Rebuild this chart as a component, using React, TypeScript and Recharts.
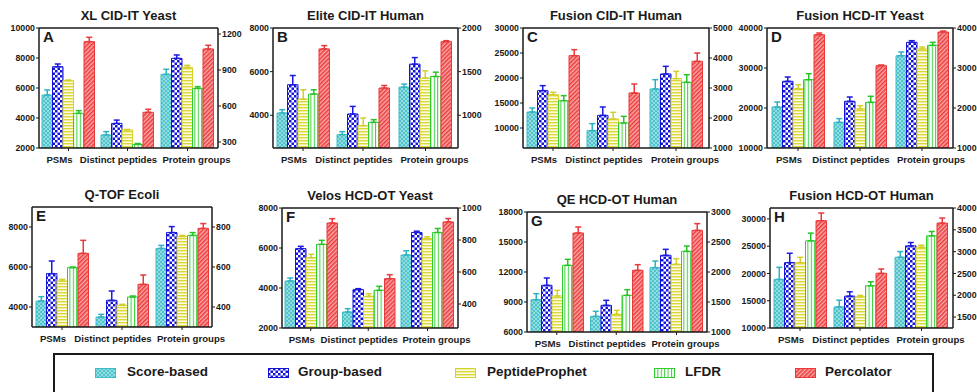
import React from "react";
import { BarChart, Bar, XAxis, YAxis, ErrorBar, ReferenceLine } from "recharts";

const categories = ["PSMs", "Distinct peptides", "Protein groups"];
const methods = ["Score-based", "Group-based", "PeptideProphet", "LFDR", "Percolator"];
const methodKeys = ["score", "group", "pp", "lfdr", "perc"];

// rows follow `methods`, columns follow `categories`
const meanA = [[5530, 2870, 864], [7420, 3640, 997], [6490, 3200, 922], [4310, 2240, 747], [9090, 4380, 1075]];
const errA = [[340, 220, 42], [180, 220, 28], [40, 40, 17], [180, 60, 14], [290, 200, 31]];

const meanB = [[4105, 3114, 1323], [5397, 4059, 1586], [4744, 3525, 1426], [4973, 3676, 1444], [7041, 5247, 1844]];
const errB = [[150, 136, 34], [425, 347, 75], [425, 352, 83], [196, 123, 50], [151, 118, 11]];

const meanC = [[13200, 9470, 2967], [17470, 12530, 3467], [16670, 11800, 3311], [15470, 11000, 3189], [24470, 17000, 3889]];
const errC = [[800, 1400, 311], [1000, 1670, 255], [470, 1330, 245], [1000, 1330, 255], [1200, 1800, 278]];

const meanD = [[20250, 16420, 3308], [26670, 21670, 3642], [24830, 19750, 3475], [27080, 21420, 3567], [38330, 30580, 3900]];
const errD = [[1250, 920, 92], [1080, 1080, 41], [1000, 830, 50], [1500, 1500, 75], [420, 170, 25]];

const meanE = [[4300, 3500, 693], [5667, 4333, 772], [5300, 4083, 752], [5967, 4500, 758], [6683, 5133, 793]];
const errE = [[217, 133, 15], [633, 467, 30], [83, 50, 6], [33, 50, 14], [650, 467, 24]];

const meanF = [[4350, 2800, 706], [5967, 3917, 847], [5517, 3583, 809], [6183, 3883, 847], [7250, 4467, 913]];
const errF = [[150, 167, 27], [116, 50, 8], [166, 134, 11], [200, 200, 25], [217, 200, 21]];

const meanG = [[9233, 7567, 2072], [10667, 8667, 2278], [9600, 7767, 2128], [12667, 9667, 2344], [15900, 12167, 2694]];
const errG = [[600, 500, 111], [733, 500, 100], [567, 400, 94], [600, 566, 89], [600, 566, 112]];

const meanH = [[18910, 13870, 2871], [21980, 15840, 3132], [21980, 15720, 3101], [25980, 17740, 3362], [29670, 20020, 3654]];
const errH = [[2210, 1230, 130], [1720, 800, 77], [980, 250, 46], [1410, 740, 100], [1410, 800, 116]];

const panels = [
  { letter: "A", title: "XL CID-IT Yeast", mean: meanA, err: errA, lDom: [2000, 10000], lTicks: [2000, 4000, 6000, 8000, 10000], rDom: [250, 1250], rTicks: [300, 600, 900, 1200] },
  { letter: "B", title: "Elite CID-IT Human", mean: meanB, err: errB, lDom: [2500, 8000], lTicks: [4000, 6000, 8000], rDom: [625, 2000], rTicks: [1000, 1500, 2000] },
  { letter: "C", title: "Fusion CID-IT Human", mean: meanC, err: errC, lDom: [6000, 30000], lTicks: [10000, 15000, 20000, 25000, 30000], rDom: [1000, 5000], rTicks: [1000, 2000, 3000, 4000, 5000] },
  { letter: "D", title: "Fusion HCD-IT Yeast", mean: meanD, err: errD, lDom: [10000, 40000], lTicks: [10000, 20000, 30000, 40000], rDom: [1000, 4000], rTicks: [1000, 2000, 3000, 4000] },
  { letter: "E", title: "Q-TOF Ecoli", mean: meanE, err: errE, lDom: [3000, 9000], lTicks: [4000, 6000, 8000], rDom: [300, 900], rTicks: [400, 600, 800] },
  { letter: "F", title: "Velos HCD-OT Yeast", mean: meanF, err: errF, lDom: [2000, 8000], lTicks: [2000, 4000, 6000, 8000], rDom: [250, 1000], rTicks: [400, 600, 800, 1000] },
  { letter: "G", title: "QE HCD-OT Human", mean: meanG, err: errG, lDom: [6000, 18000], lTicks: [6000, 9000, 12000, 15000, 18000], rDom: [1000, 3000], rTicks: [1000, 1500, 2000, 2500, 3000] },
  { letter: "H", title: "Fusion HCD-OT Human", mean: meanH, err: errH, lDom: [10000, 32000], lTicks: [10000, 15000, 20000, 25000, 30000], rDom: [1250, 4000], rTicks: [1500, 2000, 2500, 3000, 3500, 4000] },
];

// plot frame of each panel: left edge, dashed divider, right edge, top
const frames = [
  { x0: 39, xd: 157, x1: 218, top: 28 },
  { x0: 273, xd: 393, x1: 458, top: 28 },
  { x0: 523, xd: 643, x1: 709, top: 28 },
  { x0: 767, xd: 891, x1: 953, top: 28 },
  { x0: 32, xd: 152, x1: 212, top: 207 },
  { x0: 282, xd: 397, x1: 458, top: 208 },
  { x0: 527, xd: 646, x1: 707, top: 212 },
  { x0: 770, xd: 890, x1: 953, top: 208 },
];

const INK = "#1a1a1a";
const AXW = 34;
const TOPM = 8;
const XH = 24;
const PLOT_H = 120;

const styles: Record<string, { fill: string; stroke: string; err: string }> = {
  score: { fill: "url(#pScore)", stroke: "#3fbcc6", err: "#2fb2c2" },
  group: { fill: "url(#pGroup)", stroke: "#1414d8", err: "#1a1ae0" },
  pp: { fill: "url(#pPP)", stroke: "#d6d22c", err: "#d4cf2a" },
  lfdr: { fill: "url(#pLFDR)", stroke: "#30cc30", err: "#27c427" },
  perc: { fill: "url(#pPerc)", stroke: "#ec3838", err: "#e83a3a" },
};

function PatternDefs() {
  return (
    <svg width={0} height={0} style={{ position: "absolute" }}>
      <defs>
        <pattern id="pScore" width={4} height={4} patternUnits="userSpaceOnUse">
          <rect width={4} height={4} fill="#52c3ca" />
          <rect width={2} height={2} fill="#92dde1" />
          <rect x={2} y={2} width={2} height={2} fill="#92dde1" />
        </pattern>
        <pattern id="pGroup" width={5} height={5} patternUnits="userSpaceOnUse">
          <rect width={5} height={5} fill="#ffffff" />
          <rect width={2.5} height={2.5} fill="#1414d8" />
          <rect x={2.5} y={2.5} width={2.5} height={2.5} fill="#1414d8" />
        </pattern>
        <pattern id="pPP" width={4} height={3} patternUnits="userSpaceOnUse">
          <rect width={4} height={3} fill="#fdfbe4" />
          <rect width={4} height={1.4} fill="#dcd83a" />
        </pattern>
        <pattern id="pLFDR" width={3.4} height={4} patternUnits="userSpaceOnUse">
          <rect width={3.4} height={4} fill="#ffffff" />
          <rect width={1} height={4} fill="#38d038" />
        </pattern>
        <pattern id="pPerc" width={3} height={3} patternUnits="userSpaceOnUse" patternTransform="rotate(45)">
          <rect width={3} height={3} fill="#f8a8a8" />
          <rect width={1.5} height={3} fill="#ee3a3a" />
        </pattern>
      </defs>
    </svg>
  );
}

function buildRows(mean: number[][], err: number[][], cols: number[]) {
  return cols.map((c) => {
    const row: any = { cat: categories[c] };
    methodKeys.forEach((k, m) => {
      row[k] = mean[m][c];
      row[k + "Err"] = [0, err[m][c]];
    });
    return row;
  });
}

const CatTick = (props: any) => {
  const { x, y, payload, shift } = props;
  return (
    <text x={x + shift} y={y} dy={7} textAnchor="middle" fontSize={9.6} fontWeight={700} fill={INK}>
      {payload.value}
    </text>
  );
};

function Half({ rows, side, domain, ticks, width, shift }: any) {
  const isLeft = side === "left";
  return (
    <BarChart
      width={width}
      height={TOPM + PLOT_H + XH}
      data={rows}
      barSize={10.5}
      barGap={0}
      margin={{ top: TOPM, right: isLeft ? 1 : 0, bottom: 0, left: 0 }}
    >
      <XAxis
        dataKey="cat"
        height={XH}
        interval={0}
        tickSize={3}
        tickMargin={5}
        axisLine={{ stroke: INK, strokeWidth: 1.5 }}
        tickLine={{ stroke: INK }}
        tick={(p: any) => <CatTick {...p} shift={shift} />}
      />
      <YAxis
        yAxisId={side}
        orientation={side}
        domain={domain}
        ticks={ticks}
        allowDataOverflow
        interval={0}
        width={AXW}
        tickSize={3}
        tickMargin={1}
        axisLine={{ stroke: INK, strokeWidth: 1.5 }}
        tickLine={{ stroke: INK }}
        tick={{ fontSize: 8.8, fontWeight: 700, fill: INK }}
      />
      {isLeft && (
        <YAxis
          yAxisId="divider"
          orientation="right"
          width={0}
          domain={[0, 1]}
          tick={false}
          tickLine={false}
          axisLine={{ stroke: INK, strokeWidth: 1.5, strokeDasharray: "4 3" }}
        />
      )}
      <ReferenceLine yAxisId={side} y={domain[1]} stroke={INK} strokeWidth={1.5} />
      {methodKeys.map((k) => (
        <Bar
          key={k}
          yAxisId={side}
          dataKey={k}
          fill={styles[k].fill}
          stroke={styles[k].stroke}
          strokeWidth={1}
          isAnimationActive={false}
        >
          <ErrorBar dataKey={k + "Err"} width={3} stroke={styles[k].err} strokeWidth={1.5} direction="y" />
        </Bar>
      ))}
    </BarChart>
  );
}

function Panel({ p, f }: any) {
  return (
    <>
      <div
        style={{
          position: "absolute",
          left: f.x0,
          width: f.x1 - f.x0,
          top: f.top - 20,
          textAlign: "center",
          fontSize: 13,
          fontWeight: 700,
          lineHeight: "16px",
          whiteSpace: "nowrap",
        }}
      >
        {p.title}
      </div>
      <div style={{ position: "absolute", left: f.x0 - AXW, top: f.top - TOPM }}>
        <Half rows={buildRows(p.mean, p.err, [0, 1])} side="left" domain={p.lDom} ticks={p.lTicks} width={AXW + (f.xd - f.x0) + 1} shift={-9} />
      </div>
      <div style={{ position: "absolute", left: f.xd, top: f.top - TOPM }}>
        <Half rows={buildRows(p.mean, p.err, [2])} side="right" domain={p.rDom} ticks={p.rTicks} width={f.x1 - f.xd + AXW} shift={9} />
      </div>
      <div style={{ position: "absolute", left: f.x0 + 4, top: f.top + 1, fontSize: 15, fontWeight: 700, lineHeight: "16px" }}>
        {p.letter}
      </div>
    </>
  );
}

const legendPos = [
  { icon: 95, text: 127 },
  { icon: 268, text: 298 },
  { icon: 455, text: 487 },
  { icon: 654, text: 685 },
  { icon: 795, text: 825 },
];

function Legend() {
  return (
    <div style={{ position: "absolute", left: 53, top: 353, width: 877, height: 50, border: `2px solid ${INK}` }}>
      {methods.map((m, i) => {
        const k = methodKeys[i];
        return (
          <React.Fragment key={m}>
            <svg width={21} height={10} style={{ position: "absolute", left: legendPos[i].icon - 55, top: 13 }}>
              <rect x={0.5} y={0.5} width={20} height={9} fill={styles[k].fill} stroke={styles[k].stroke} strokeWidth={1} />
            </svg>
            <div style={{ position: "absolute", left: legendPos[i].text - 55, top: 8, fontSize: 13.5, fontWeight: 700, lineHeight: "18px", whiteSpace: "nowrap" }}>
              {m}
            </div>
          </React.Fragment>
        );
      })}
    </div>
  );
}

export default function App() {
  return (
    <div
      style={{
        position: "absolute",
        left: 0,
        top: 0,
        width: 977,
        height: 392,
        overflow: "hidden",
        background: "#fff",
        color: INK,
        fontFamily: "'Liberation Sans', Arial, sans-serif",
      }}
    >
      <PatternDefs />
      {panels.map((p, i) => (
        <Panel key={p.letter} p={p} f={frames[i]} />
      ))}
      <Legend />
    </div>
  );
}
